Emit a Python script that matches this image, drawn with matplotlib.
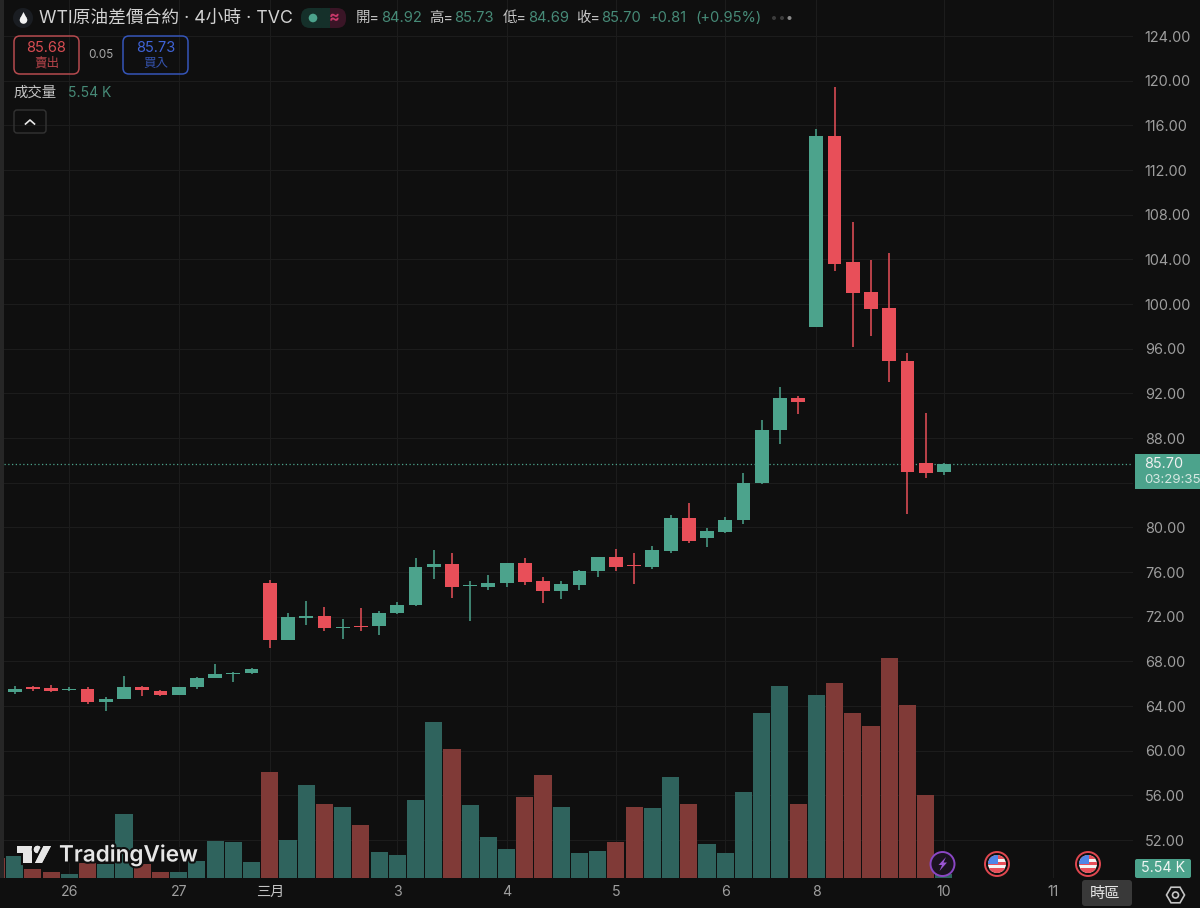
import matplotlib
matplotlib.use("Agg")
import matplotlib.pyplot as plt
from matplotlib.patches import Circle, FancyBboxPatch, Polygon, Rectangle, RegularPolygon
import matplotlib.patheffects as pe

plt.rcParams['font.family'] = ['Inter', 'Noto Sans CJK TC', 'DejaVu Sans']

# 4h candles
opens = [65.23, 65.68, 65.64, 65.46, 65.50, 64.33, 64.65, 65.70, 65.31, 65.01,
         65.68, 66.48, 66.86, 66.98, 74.99, 69.93, 71.90, 72.03, 70.98, 71.16,
         71.16, 72.33, 73.04, 76.42, 76.69, 74.74, 74.65, 74.99, 76.80, 75.22,
         74.32, 74.81, 76.06, 77.31, 76.62, 76.45, 77.88, 80.83, 79.01, 79.61,
         80.65, 83.97, 88.69, 91.55, 97.94, 115.07, 103.73, 101.07, 99.61, 94.87,
         85.73, 84.92]
highs = [65.79, 65.79, 65.88, 65.68, 65.68, 64.78, 66.68, 65.79, 65.43, 65.73,
         66.62, 67.76, 67.04, 67.43, 75.28, 72.35, 73.37, 72.89, 71.82, 72.75,
         72.50, 73.34, 77.23, 77.97, 77.67, 75.16, 75.70, 76.83, 77.23, 75.58,
         75.22, 76.18, 77.34, 78.03, 77.67, 78.35, 81.07, 82.15, 79.91, 80.90,
         84.89, 89.61, 92.59, 91.76, 115.64, 119.46, 107.37, 103.94, 104.54, 95.58,
         90.21, 85.73]
lows = [65.08, 65.37, 65.25, 65.37, 64.18, 63.58, 64.65, 64.92, 64.89, 65.01,
        65.55, 66.48, 66.15, 66.84, 69.16, 69.93, 71.25, 70.74, 70.02, 70.74,
        70.38, 72.24, 72.98, 75.34, 73.70, 71.61, 74.39, 74.68, 74.83, 73.25,
        73.61, 74.39, 75.52, 76.06, 74.92, 76.29, 77.67, 78.62, 78.21, 79.46,
        80.30, 83.88, 87.46, 90.15, 97.94, 102.98, 96.17, 97.16, 93.04, 81.16,
        84.44, 84.69]
closes = [65.55, 65.50, 65.37, 65.55, 64.33, 64.65, 65.70, 65.40, 65.01, 65.70,
          66.51, 66.86, 66.98, 67.28, 69.93, 71.97, 72.03, 70.96, 71.10, 71.05,
          72.33, 73.04, 76.42, 76.69, 74.63, 74.86, 74.99, 76.83, 75.13, 74.27,
          74.90, 76.06, 77.31, 76.45, 76.51, 77.94, 80.81, 78.80, 79.67, 80.68,
          83.97, 88.71, 91.55, 91.22, 115.04, 103.61, 101.01, 99.58, 94.87, 84.98,
          84.84, 85.70]
# volume in K, the first bar belongs to a candle cut off at the left edge
volume_cut = 29.6
volumes = [32.5, 13.5, 9, 6, 23, 21, 96, 21, 9.5, 9,
           25, 55, 54, 23.5, 159.5, 57, 139, 111.5, 107, 79,
           39.5, 35, 117.5, 234.5, 193, 109, 61, 43, 121, 155,
           106.5, 38, 40, 54.5, 107, 105.5, 151.5, 111, 51.5, 38,
           128.5, 248, 287.5, 111, 274.5, 292.5, 247.5, 227.5, 329.5, 259,
           125, 5.54]

date_ticks = [3, 9, 14, 21, 27, 33, 39, 44, 51, 57]
date_labels = ['26', '27', '三月', '3', '4', '5', '6', '8', '10', '11']
price_ticks = list(range(52, 125, 4))
last_price = 85.70

BG = '#0f0f0f'
GRID = '#1c1c1c'
TEXT = '#9e9e9e'
GREEN = '#4ca38c'
RED = '#e84f59'
VOL_GREEN = '#2f635d'
VOL_RED = '#803a37'
HEAD_GREEN = '#468a77'

W, H = 1200, 908
fig = plt.figure(figsize=(12, 9.08), dpi=100, facecolor=BG)

# main plot runs from x=4 to x=1133 and y=0 to y=878 in pixels
ax = fig.add_axes([4 / W, 1 - 878 / H, 1129 / W, 878 / H], facecolor=BG)
vol_ax = ax.twinx()
ax.set_zorder(1)
vol_ax.set_zorder(2)
vol_ax.patch.set_visible(False)

xs = list(range(len(closes)))
up = [c >= o for o, c in zip(opens, closes)]
candle_colors = [GREEN if u else RED for u in up]

ax.vlines(xs, lows, highs, colors=candle_colors, linewidth=1.1, zorder=3)
ax.bar(xs, [abs(c - o) for o, c in zip(opens, closes)],
       bottom=[min(o, c) for o, c in zip(opens, closes)],
       width=0.76, color=candle_colors, zorder=4)
ax.axhline(last_price, color=GREEN, linewidth=0.9, linestyle=(0, (1, 2)), zorder=2)

vol_ax.bar([-1], [volume_cut], width=0.94, color=VOL_RED)
vol_ax.bar(xs, volumes, width=0.94, color=[VOL_GREEN if u else VOL_RED for u in up])

ax.set_xlim(-0.587, 61.38)
ax.set_ylim(48.60, 127.224)
vol_ax.set_ylim(0, 1317)
vol_ax.yaxis.set_visible(False)

ax.yaxis.tick_right()
ax.set_yticks(price_ticks)
# the 84 label sits behind the last price tag
ax.set_yticklabels(['' if p == 84 else f"{p:.2f}" for p in price_ticks])
ax.set_xticks(date_ticks)
ax.set_xticklabels(date_labels)
ax.tick_params(axis='y', length=0, pad=8.5, labelsize=10.4, labelcolor=TEXT)
ax.tick_params(axis='x', length=0, pad=5, labelsize=10.2, labelcolor=TEXT)
ax.get_xticklabels()[2].set_color('#c4c4c4')
ax.grid(True, color=GRID, linewidth=0.8, zorder=0)
ax.set_axisbelow(True)
for a in (ax, vol_ax):
    for s in a.spines.values():
        s.set_visible(False)

# everything else is chart UI, drawn in pixel coordinates
ui = fig.add_axes([0, 0, 1, 1], zorder=5)
ui.set_xlim(0, W)
ui.set_ylim(H, 0)
ui.axis('off')


def label(x, y, s, color=TEXT, size=10.4, ha='left', **kw):
    return ui.text(x, y, s, color=color, fontsize=size, ha=ha, va='center', **kw)


def rounded(x0, y0, x1, y1, face='none', edge='none', r=4, lw=1.0):
    p = FancyBboxPatch((x0 + r, y0 + r), x1 - x0 - 2 * r, y1 - y0 - 2 * r,
                       boxstyle=f"round,pad={r},rounding_size={r}",
                       facecolor=face, edgecolor=edge, linewidth=lw)
    ui.add_patch(p)
    return p


def flag(x, y):
    ui.add_patch(Circle((x, y), 12, facecolor=BG, edgecolor='#e0474f', linewidth=1.4))
    disc = Circle((x, y), 9, facecolor='#f4f4f4', edgecolor='none')
    ui.add_patch(disc)
    parts = [Rectangle((x - 9, y - 9), 18, 3.5, facecolor=RED),
             Rectangle((x - 9, y - 2), 18, 2.5, facecolor=RED),
             Rectangle((x - 9, y + 4), 18, 5, facecolor=RED),
             Rectangle((x - 9, y - 9), 10, 9, facecolor='#4f86e8')]
    for part in parts:
        ui.add_patch(part)
        part.set_clip_path(disc)


# left edge strip
ui.add_patch(Rectangle((0, 0), 4, 878, facecolor='#262626', edgecolor='none'))

# title row
ui.add_patch(Circle((23, 18), 10, facecolor='#1a1d22', edgecolor='none'))
ui.add_patch(Circle((23.5, 20), 3.8, facecolor='#f2f2f2', edgecolor='none'))
ui.add_patch(Polygon([(20.4, 18), (23.5, 12), (26.6, 18)], facecolor='#f2f2f2', edgecolor='none'))
label(39, 18, 'WTI原油差價合約 · 4小時 · TVC', color='#d2d2d2', size=12.75)

rounded(301, 8, 330, 28, face='#15302a', r=9)
rounded(322, 8, 346, 28, face='#3a1526', r=9)
ui.add_patch(Rectangle((322, 8), 8, 20, facecolor='#15302a', edgecolor='none'))
ui.add_patch(Circle((313, 18), 4.3, facecolor=GREEN, edgecolor='none'))
label(334, 18, '≈', color='#c9386a', size=11.5, ha='center', fontweight='bold')

for x, s in [(356, '開='), (429, '高='), (503, '低='), (576, '收=')]:
    label(x, 18, s, color='#c6c6c6', size=10.4)
for x, s in [(381, '84.92'), (454, '85.73'), (528, '84.69'), (601, '85.70'),
             (649, '+0.81'), (695, '(+0.95%)')]:
    label(x, 18, s, color=HEAD_GREEN, size=10.6)
for x, c in [(774, '#3c3c3c'), (782, '#3c3c3c'), (789.5, '#8a8a8a')]:
    ui.add_patch(Circle((x, 18), 2, facecolor=c, edgecolor='none'))

# bid / ask boxes
rounded(14, 36, 79, 74, edge='#b54a4e', r=6, lw=1.1)
label(46.5, 47.5, '85.68', color='#d84c52', size=10.5, ha='center')
label(46.5, 63.5, '賣出', color='#b5444a', size=9, ha='center')
label(101, 55, '0.05', color='#a8a8a8', size=8.4, ha='center')
rounded(123, 36, 188, 74, edge='#3555b8', r=6, lw=1.1)
label(155.5, 47.5, '85.73', color='#3f63d6', size=10.5, ha='center')
label(155.5, 63.5, '買入', color='#3553ad', size=9, ha='center')

# volume legend
label(14, 93, '成交量', color='#c4c4c4', size=10.4)
label(68, 93, '5.54 K', color=HEAD_GREEN, size=10)
rounded(14, 110, 46, 133, edge='#333333', r=3, lw=1.0)
ui.plot([25.5, 30, 34.5], [124, 120, 124], color='#e8e8e8', linewidth=1.2)

# TradingView watermark
halo = [pe.withStroke(linewidth=3, foreground=BG)]
logo = [Polygon([(17, 846), (32, 846), (32, 862.5), (23, 862.5), (23, 853), (17, 853)]),
        Circle((37.5, 849.5), 3.7),
        Polygon([(51, 846), (42, 863), (35, 863), (43.5, 846)])]
for part in logo:
    part.set_facecolor('#e6e6e6')
    part.set_edgecolor('none')
    part.set_path_effects([pe.withStroke(linewidth=3, foreground=BG), pe.Normal()])
    ui.add_patch(part)
label(59, 855, 'TradingView', color='#e6e6e6', size=16.2, fontweight='semibold', path_effects=halo)

# last price tag
ui.add_patch(Rectangle((1135, 454), 65, 35, facecolor=GREEN, edgecolor='none'))
label(1144, 463.5, '85.70', color='#f0f0f0', size=10.4)
label(1144, 480, '03:29:35', color='#d5e8e2', size=9.6)

# event icons
ui.add_patch(Circle((942.5, 864), 12, facecolor='#1a1320', edgecolor='#8a46c4', linewidth=1.4))
ui.add_patch(Polygon([(946, 857), (938.5, 865), (942, 865), (939.5, 871), (947, 862.5), (943.5, 862.5)],
                     facecolor='#9a55d4', edgecolor='none'))
flag(997, 864)
flag(1088, 864)

# volume tag, timezone tooltip, settings
rounded(1135, 859, 1191, 878, face=GREEN, r=2)
label(1163, 868.5, '5.54 K', color='#eef5f2', size=10.2, ha='center')
rounded(1082, 880, 1132, 906, face='#393939', r=3)
label(1105.5, 893.5, '時區', color='#e4e4e4', size=11, ha='center')
ui.add_patch(RegularPolygon((1175.5, 895), 6, radius=9, orientation=0.5236,
                            facecolor='none', edgecolor='#c4c4c4', linewidth=1.2))
ui.add_patch(Circle((1175.5, 895), 3, facecolor='none', edgecolor='#c4c4c4', linewidth=1.2))

fig.savefig('out.png', dpi=100, facecolor=BG)
